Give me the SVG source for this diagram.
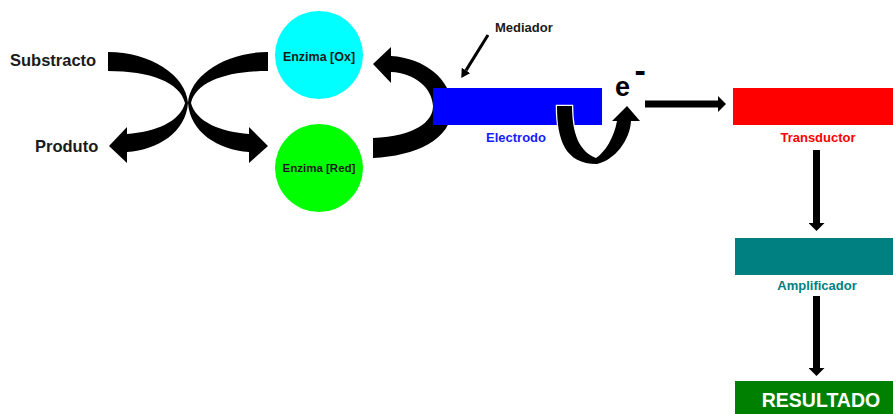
<svg xmlns="http://www.w3.org/2000/svg" width="893" height="414" viewBox="0 0 893 414">
<style>
text{font-family:"Liberation Sans",Arial,sans-serif;font-weight:bold}
.lbl{fill:#1a1a1a}
.arr{fill:#000}
.shaft{stroke:#000;stroke-width:7;fill:none}
</style>
<defs>
<marker id="ah" markerUnits="userSpaceOnUse" markerWidth="9" markerHeight="16" refX="0" refY="8" orient="auto"><path d="M0,0 L8,8 L0,16 Z" fill="#000"/></marker>
<marker id="ahs" markerUnits="userSpaceOnUse" markerWidth="10" markerHeight="10" refX="0" refY="5" orient="auto"><path d="M0,0 L9,5 L0,10 Z" fill="#000"/></marker>
</defs>
<rect width="893" height="414" fill="#fff"/>
<g id="connectors">
<path class="arr" d="M108,52 C150,52 186,75 188,103 C186,132 158,150 127,152 L127,163 L109,146 L127,127 L127,134 C155,132 180,122 185,103 C180,82 150,71 108,71 Z"/>
<path class="arr" d="M268,52 C226,52 190,75 188,103 C190,132 218,150 249,152 L249,163 L268,146 L249,127 L249,134 C221,132 196,122 191,103 C196,82 226,71 268,71 Z"/>
<path class="arr" d="M373,158 C415,156 452,140 452,108 C452,80 425,58 391,56 L391,47 L373,64 L391,83 L391,72 C415,73 432,88 433,106 C433,122 415,136 373,138 Z"/>
<line x1="488" y1="35" x2="466" y2="70.4" stroke="#000" stroke-width="3" marker-end="url(#ahs)"/>
<line class="shaft" x1="645" y1="104" x2="718" y2="104" marker-end="url(#ah)"/>
<line class="shaft" x1="816.5" y1="150" x2="816.5" y2="223" marker-end="url(#ah)"/>
<line class="shaft" x1="816.5" y1="296" x2="816.5" y2="368" marker-end="url(#ah)"/>
</g>
<g id="substracto"><text class="lbl" x="10" y="66" font-size="16.5">Substracto</text></g>
<g id="produto"><text class="lbl" x="35" y="152" font-size="16.5">Produto</text></g>
<g id="enzima-ox"><circle cx="319" cy="55" r="44" fill="#00ffff"/><text class="lbl" x="319" y="61" font-size="12.5" text-anchor="middle">Enzima [Ox]</text></g>
<g id="enzima-red"><circle cx="319" cy="168" r="44" fill="#00ff00"/><text class="lbl" x="319" y="172" font-size="11.5" text-anchor="middle">Enzima [Red]</text></g>
<g id="mediador"><text class="lbl" x="495" y="32" font-size="13">Mediador</text></g>
<g id="electrodo"><rect x="433" y="88" width="169" height="37" fill="#0000ff"/><text x="516" y="142" font-size="13" fill="#1a1aff" text-anchor="middle">Electrodo</text></g>
<g id="electron"><text x="615" y="96" font-size="27" fill="#000">e</text><text x="634.5" y="81.5" font-size="34" fill="#000">-</text></g>
<g id="transductor"><rect x="733" y="88" width="160" height="37" fill="#ff0000"/><text x="818" y="142" font-size="13" fill="#ff0000" text-anchor="middle">Transductor</text></g>
<g id="amplificador"><rect x="735" y="238" width="158" height="37" fill="#008080"/><text x="817" y="290" font-size="13" fill="#008080" text-anchor="middle">Amplificador</text></g>
<g id="resultado"><rect x="735" y="381" width="158" height="33" fill="#008000"/><text x="821" y="407" font-size="19.5" fill="#fff" text-anchor="middle">RESULTADO</text></g>
<g id="connectors-top">
<path class="arr" stroke="#fff" stroke-width="2.5" paint-order="stroke" d="M557,106 L572,106 C572,135 580,152 596,158 C605,152 614,138 617,121 L612,121 L627,106 L640,121 L631,121 C630,140 615,160 597,164 C565,164 557,140 557,106 Z"/>
</g>
</svg>
